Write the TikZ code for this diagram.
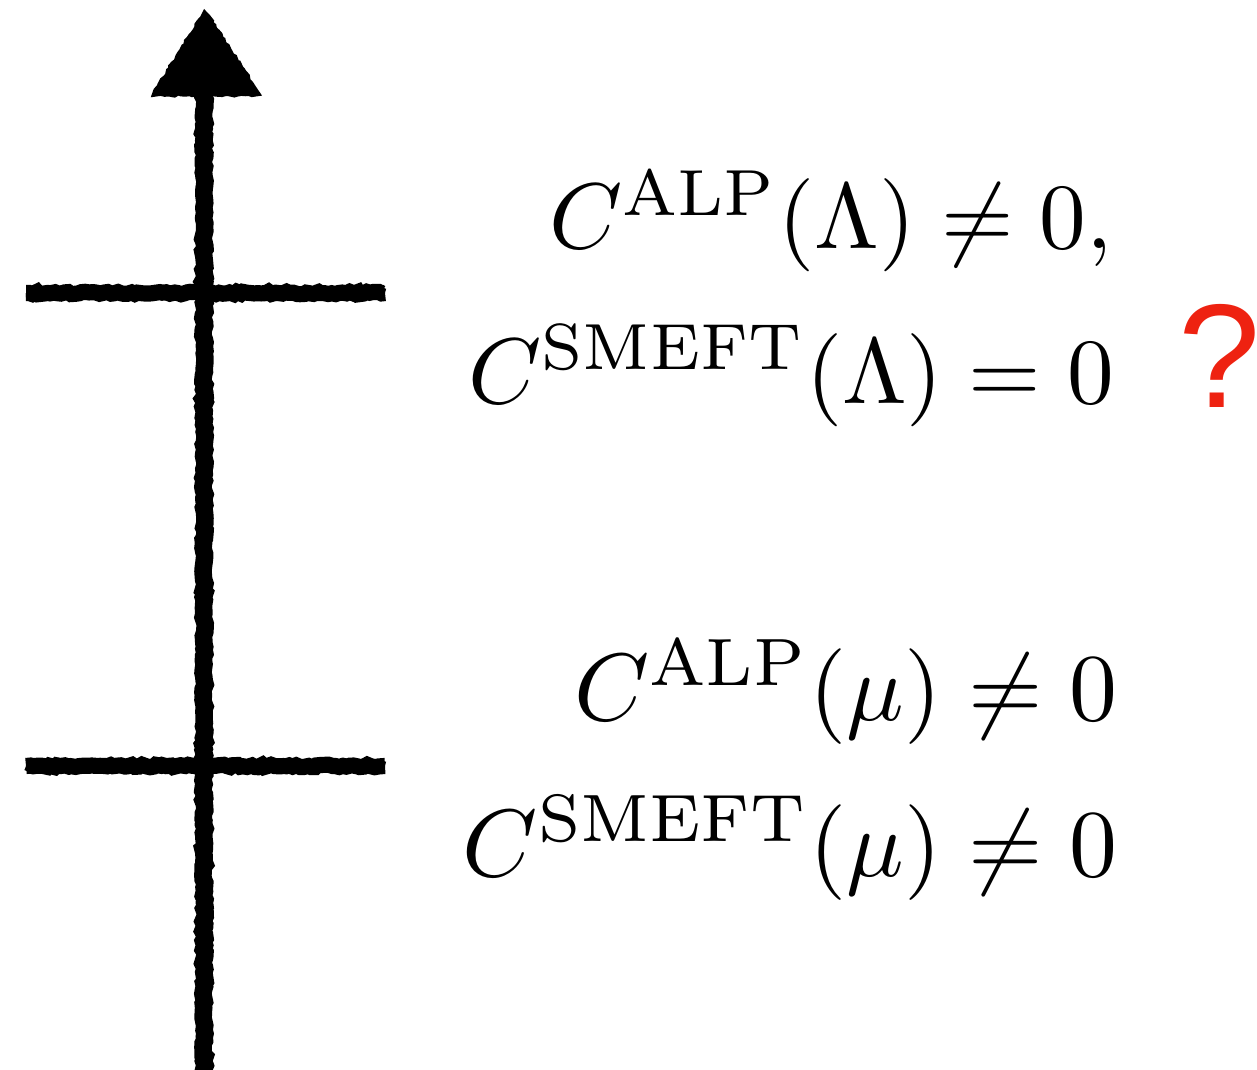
\documentclass[tikz,border=0pt]{standalone}
\usepackage{fontspec}
\usepackage{xcolor}
\usepackage{tikz}
\usetikzlibrary{decorations.pathmorphing}
\newfontfamily\qfont{Liberation Sans}
\definecolor{qred}{HTML}{EE2211}

\begin{document}
\begin{tikzpicture}[
  x=0.01cm, y=-0.01cm,
  roughline/.style={draw=black, line width=5pt, line cap=butt,
    decorate, decoration={random steps, segment length=1pt, amplitude=0.35pt}},
  tickline/.style={roughline, line width=4.6pt},
  eqlabel/.style={anchor=base east, inner sep=0pt, scale=2.65}
]
\useasboundingbox (0,0) rectangle (1257,1070);
% scale axis
\coordinate (bottom) at (204,1075);
\coordinate (top) at (204,92);
\draw[roughline] (bottom) -- (top);
\draw[roughline, line width=3pt] (bottom) -- (top);
\filldraw[roughline, line width=2pt, fill=black] (156,93) -- (205,15) -- (256,93) -- cycle;
% the two scales
\coordinate (hiL) at (26,293);
\coordinate (hiR) at (385,293);
\coordinate (loL) at (26,766);
\coordinate (loR) at (385,766);
\draw[tickline] (hiL) -- (hiR);
\draw[tickline, line width=2.5pt] (hiL) -- (hiR);
\draw[tickline] (loL) -- (loR);
\draw[tickline, line width=2.5pt] (loL) -- (loR);
% conditions at the scales
\node[eqlabel] (alpUV) at (1114,249) {$C^{\rm ALP}(\Lambda)\neq0,$};
\node[eqlabel] (smeftUV) at (1116,403) {$C^{\rm SMEFT}(\Lambda)=0$};
\node[anchor=base west, inner sep=0pt, text=qred] (quest) at (1178,408)
  {\fontsize{42}{48}\qfont ?};
\node[eqlabel, scale=1.027] (alpIR) at (1119,720) {$C^{\rm ALP}(\mu)\neq0$};
\node[eqlabel, scale=1.027] (smeftIR) at (1119,876) {$C^{\rm SMEFT}(\mu)\neq0$};
\end{tikzpicture}
\end{document}
